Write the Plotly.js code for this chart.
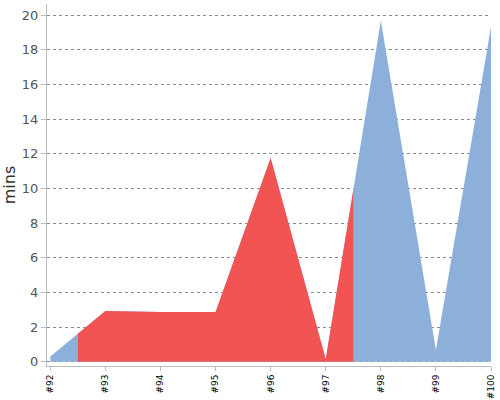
<!DOCTYPE html>
<html>
<head>
<meta charset="utf-8">
<script src="https://cdn.plot.ly/plotly-3.0.1.min.js"></script>
<style>
  body { margin: 0; background: #fff; }
  #chart { width: 500px; height: 400px; }
</style>
</head>
<body>
<div id="chart"></div>
<script>
// build durations (mins) and result of each build
var builds = ["#92", "#93", "#94", "#95", "#96", "#97", "#98", "#99", "#100"];
var mins = [0.3, 2.93, 2.87, 2.87, 11.76, 0.14, 19.69, 0.68, 19.34];
var results = ["ok", "fail", "fail", "fail", "fail", "fail", "ok", "ok", "ok"];

var colors = { ok: "#8db0da", fail: "#f25454" };

function area(x, y, color) {
    return {
        x: x,
        y: y,
        type: "scatter",
        mode: "lines",
        fill: "tozeroy",
        fillcolor: color,
        line: { width: 0, color: color },
        hoverinfo: "skip",
        showlegend: false
    };
}

// whole series in the "ok" colour, then failed runs drawn on top,
// switching colour halfway between two builds
function makeTraces() {
    var idx = builds.map(function (b, i) { return i; });
    var traces = [area(idx, mins, colors.ok)];
    var cur = null;
    for (var i = 0; i < builds.length; i++) {
        if (results[i] === "fail") {
            if (cur === null) {
                cur = { x: [], y: [] };
                if (i > 0) {
                    cur.x.push(i - 0.5);
                    cur.y.push((mins[i - 1] + mins[i]) / 2);
                }
            }
            cur.x.push(i);
            cur.y.push(mins[i]);
        } else if (cur !== null) {
            cur.x.push(i - 0.5);
            cur.y.push((mins[i - 1] + mins[i]) / 2);
            traces.push(area(cur.x, cur.y, colors.fail));
            cur = null;
        }
    }
    if (cur !== null) traces.push(area(cur.x, cur.y, colors.fail));
    return traces;
}

var layout = {
    width: 500,
    height: 400,
    margin: { l: 47, r: 9, t: 4, b: 34 },
    paper_bgcolor: "#fff",
    plot_bgcolor: "#fff",
    font: { family: "DejaVu Sans", color: "#555" },
    xaxis: {
        range: [-0.06, 8],
        tickvals: builds.map(function (b, i) { return i; }),
        ticktext: builds,
        tickangle: -90,
        tickfont: { size: 9, color: "#000" },
        showgrid: false,
        zeroline: false,
        showline: true,
        linecolor: "#bbb",
        linewidth: 1,
        ticks: "outside",
        ticklen: 4,
        tickcolor: "#bbb"
    },
    yaxis: {
        range: [-0.25, 20.65],
        tickvals: [0, 2, 4, 6, 8, 10, 12, 14, 16, 18, 20],
        tickfont: { size: 13, color: "#555" },
        showgrid: true,
        gridcolor: "#888",
        griddash: "dot",
        gridwidth: 1,
        zeroline: false,
        showline: true,
        linecolor: "#bbb",
        linewidth: 1,
        ticks: "outside",
        ticklen: 5,
        tickcolor: "#bbb",
        title: { text: "mins", font: { size: 16, color: "#333" }, standoff: 6 }
    }
};

Plotly.newPlot("chart", makeTraces(), layout, { staticPlot: true });
</script>
</body>
</html>
